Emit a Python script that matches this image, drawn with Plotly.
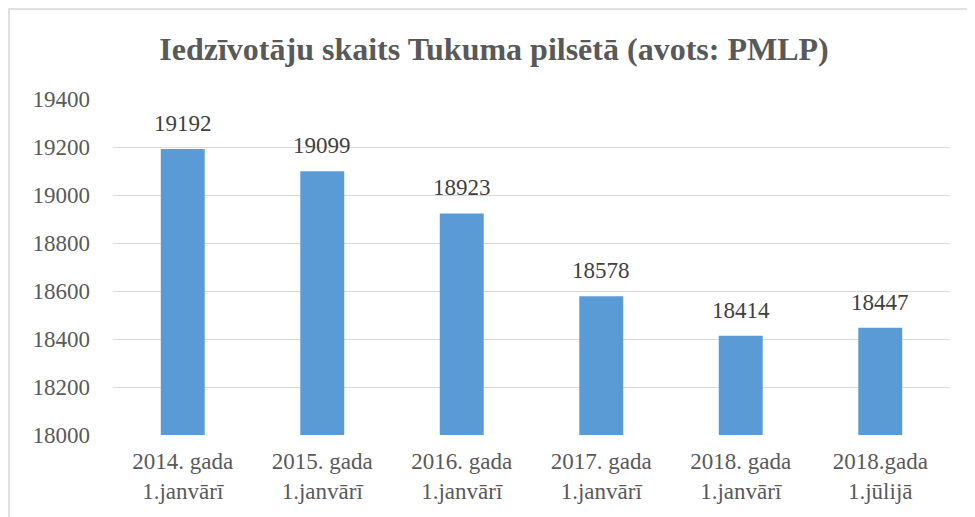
import plotly.graph_objects as go

# data
categories = [
    "2014. gada<br>1.janvārī",
    "2015. gada<br>1.janvārī",
    "2016. gada<br>1.janvārī",
    "2017. gada<br>1.janvārī",
    "2018. gada<br>1.janvārī",
    "2018.gada<br>1.jūlijā",
]
residents = [19192, 19099, 18923, 18578, 18414, 18447]
y_ticks = [18000, 18200, 18400, 18600, 18800, 19000, 19200, 19400]

FONT = "Liberation Serif"

fig = go.Figure()
fig.add_trace(go.Bar(
    x=categories,
    y=residents,
    marker=dict(color="#5b9bd5", line=dict(width=0)),
    width=0.315,
))

for cat, val in zip(categories, residents):
    fig.add_annotation(x=cat, y=val, text=str(val), showarrow=False,
                       yanchor="bottom", yshift=11,
                       font=dict(family=FONT, size=23, color="#404040"))

# light frame round the chart (runs off the right and bottom edges)
fig.add_shape(type="rect", xref="paper", yref="paper",
              x0=-104 / 837, x1=1.2, y0=-0.5, y1=1 + 90 / 336,
              line=dict(color="#d9d9d9", width=1.5), layer="below")

fig.update_layout(
    width=975, height=517,
    margin=dict(l=105, r=33, t=91, b=90),
    paper_bgcolor="white", plot_bgcolor="white",
    showlegend=False,
    title=dict(text="<b>Iedzīvotāju skaits Tukuma pilsētā (avots: PMLP)</b>",
               x=486 / 975, xanchor="center", y=1 - 41 / 517, yanchor="middle",
               font=dict(family=FONT, size=32, color="#595959")),
    font=dict(family=FONT, color="#595959"),
    xaxis=dict(showgrid=False, showline=False, ticks="", ticklabelstandoff=10,
               tickfont=dict(family=FONT, size=23, color="#595959")),
    yaxis=dict(range=[18000, 19400], tickvals=y_ticks, tickformat="d",
               showgrid=True, gridcolor="#d9d9d9", gridwidth=1,
               zeroline=False, showline=False, ticks="", ticklen=0,
               ticklabelstandoff=22,
               tickfont=dict(family=FONT, size=23, color="#595959")),
)

fig.write_html("out.html")
